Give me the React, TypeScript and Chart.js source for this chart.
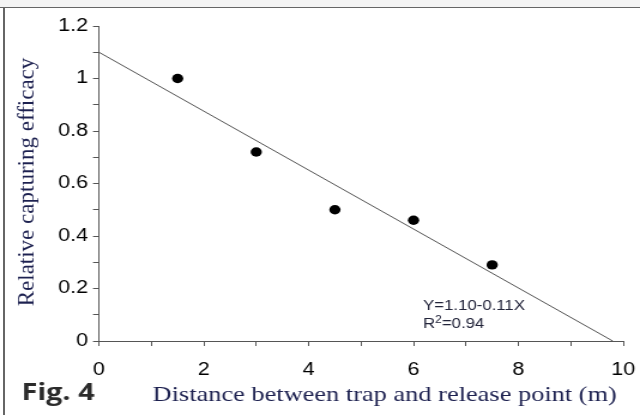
import React, { useEffect, useRef } from "react";
import { Chart, registerables } from "chart.js";

Chart.register(...registerables);

const distance = [1.5, 3, 4.5, 6, 7.5];
const efficacy = [1.0, 0.72, 0.5, 0.46, 0.29];
const fitX = [0, 9.8];
const fitY = [1.1, 0];
const equationText = "Y=1.10-0.11X";
const r2Value = "=0.94";
const xTitle = "Distance between trap and release point (m)";
const yTitle = "Relative capturing efficacy";
const figLabel = "Fig. 4";

const W = 534;
const H = 415;
const S = 640 / W;
const NAVY = "#1d2150";

const textPlugin = {
  id: "textPlugin",
  afterDraw(chart: any) {
    const ctx = chart.ctx;
    ctx.save();
    // Fig. 4
    ctx.fillStyle = "#2b2b2b";
    ctx.font = "bold 24px 'Open Sans', sans-serif";
    ctx.textAlign = "left";
    ctx.textBaseline = "alphabetic";
    ctx.fillText(figLabel, 18, 400);
    // x title
    ctx.fillStyle = NAVY;
    ctx.font = "22px 'Liberation Serif', serif";
    ctx.textAlign = "center";
    ctx.fillText(xTitle, 321, 401);
    // y title
    ctx.save();
    ctx.translate(28, 182);
    ctx.rotate(-Math.PI / 2);
    ctx.scale(1, 1 / S);
    ctx.font = "23px 'Liberation Serif', serif";
    ctx.textAlign = "center";
    ctx.fillText(yTitle, 0, 0);
    ctx.restore();
    // equation
    ctx.fillStyle = "#22243a";
    ctx.textAlign = "left";
    ctx.font = "14px 'Liberation Sans', sans-serif";
    const ex = 353;
    ctx.fillText(equationText, ex, 310);
    ctx.fillText("R", ex, 328);
    const rw = ctx.measureText("R").width;
    ctx.font = "10px 'Liberation Sans', sans-serif";
    ctx.fillText("2", ex + rw, 323);
    const tw = ctx.measureText("2").width;
    ctx.font = "14px 'Liberation Sans', sans-serif";
    ctx.fillText(r2Value, ex + rw + tw, 328);
    ctx.restore();
  },
};

function fmt(v: number) {
  return String(Number(v.toFixed(1)));
}

export default function App() {
  const ref = useRef<HTMLCanvasElement>(null);
  useEffect(() => {
    document.body.style.margin = "0";
    const chart = new Chart(ref.current!, {
      type: "scatter",
      data: {
        datasets: [
          {
            type: "line",
            data: fitX.map((x, i) => ({ x, y: fitY[i] })),
            borderColor: "#555555",
            borderWidth: 1,
            pointRadius: 0,
            fill: false,
          } as any,
          {
            data: distance.map((x, i) => ({ x, y: efficacy[i] })),
            backgroundColor: "#000000",
            borderColor: "#000000",
            pointRadius: 4.7,
            borderWidth: 0,
          },
        ],
      },
      options: {
        animation: false,
        responsive: false,
        layout: { padding: { left: 0, right: 14, top: 26, bottom: 0 } },
        plugins: { legend: { display: false }, tooltip: { enabled: false } },
        scales: {
          x: {
            type: "linear",
            min: 0,
            max: 10,
            afterFit: (s: any) => {
              s.height = H - 341;
              s.paddingLeft = 0;
              s.paddingRight = 0;
            },
            ticks: {
              stepSize: 1,
              autoSkip: false,
              maxRotation: 0,
              padding: 13,
              color: "#000000",
              font: { family: "'Liberation Sans', sans-serif", size: 18 },
              callback: (v: any, i: number) => (i % 2 === 0 ? fmt(Number(v)) : ""),
            },
            grid: {
              drawOnChartArea: false,
              drawTicks: true,
              tickLength: 5,
              color: "#555555",
            },
            border: { display: true, color: "#555555", width: 1 },
          },
          y: {
            type: "linear",
            min: 0,
            max: 1.2,
            afterFit: (s: any) => {
              s.width = 82.6;
              s.paddingTop = 0;
              s.paddingBottom = 0;
            },
            ticks: {
              stepSize: 0.1,
              autoSkip: false,
              padding: 4,
              color: "#000000",
              font: { family: "'Liberation Sans', sans-serif", size: 18 },
              callback: (v: any, i: number) => (i % 2 === 0 ? fmt(Number(v)) : ""),
            },
            grid: {
              drawOnChartArea: false,
              drawTicks: true,
              tickLength: 5,
              color: "#555555",
            },
            border: { display: true, color: "#555555", width: 1 },
          },
        },
      },
      plugins: [textPlugin],
    });
    return () => chart.destroy();
  }, []);

  return (
    <div
      style={{
        position: "absolute",
        left: 0,
        top: 0,
        width: 640,
        height: 415,
        overflow: "hidden",
        background: "#ffffff",
      }}
    >
      <div
        style={{
          position: "absolute",
          left: 0,
          top: 0,
          width: 640,
          height: 7,
          background: "#f4f4f4",
          borderBottom: "1.5px solid #666666",
        }}
      />
      <div
        style={{
          position: "absolute",
          left: 3,
          top: 7,
          width: 1.5,
          height: 408,
          background: "#666666",
        }}
      />
      <div
        style={{
          position: "absolute",
          left: 0,
          top: 0,
          width: W,
          height: H,
          transform: `scaleX(${S})`,
          transformOrigin: "0 0",
        }}
      >
        <canvas ref={ref} width={W} height={H} />
      </div>
    </div>
  );
}
